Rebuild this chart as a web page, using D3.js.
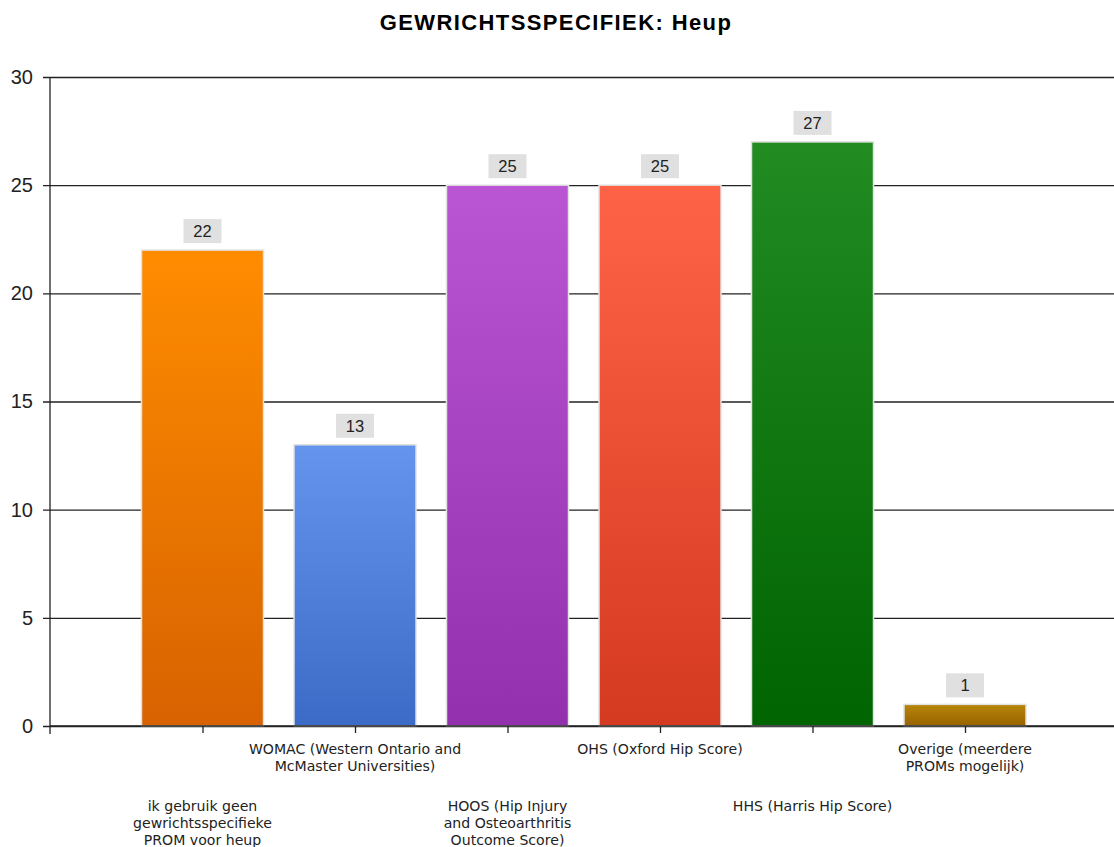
<!DOCTYPE html>
<html><head><meta charset="utf-8">
<script src="https://cdn.jsdelivr.net/npm/d3@7"></script>
<style>body{margin:0;background:#fff;} svg{display:block;font-family:"Liberation Sans",Arial,sans-serif;}</style>
</head><body><svg id="c" width="1114" height="847"></svg>
<script>
const title = "GEWRICHTSSPECIFIEK: Heup";
const categories = [
  "ik gebruik geen\ngewrichtsspecifieke\nPROM voor heup",
  "WOMAC (Western Ontario and\nMcMaster Universities)",
  "HOOS (Hip Injury\nand Osteoarthritis\nOutcome Score)",
  "OHS (Oxford Hip Score)",
  "HHS (Harris Hip Score)",
  "Overige (meerdere\nPROMs mogelijk)"
];
const values = [22, 13, 25, 25, 27, 1];
const colorsTop = ["#FF8C00", "#6495ED", "#BA55D3", "#FF6347", "#228B22", "#B8860B"];
const colorsBottom = ["#D86200", "#3C6BC7", "#9230AD", "#D43A20", "#006400", "#986200"];
const yTicks = [0, 5, 10, 15, 20, 25, 30];

(function () {
const svg = d3.select("#c");
const mLeft = 50, mRight = 1117.5, mTop = 77, mBottom = 726;
const x = d3.scaleLinear().domain([0, categories.length + 1]).range([mLeft, mRight]);
const y = d3.scaleLinear().domain([0, 30]).range([mBottom, mTop]);
const step = x(1) - x(0);
const bw = step * 0.8;

const defs = svg.append("defs");
values.forEach((v, i) => {
  const g = defs.append("linearGradient").attr("id", "g" + i).attr("x1", 0).attr("y1", 0).attr("x2", 0).attr("y2", 1);
  g.append("stop").attr("offset", "0%").attr("stop-color", colorsTop[i]);
  g.append("stop").attr("offset", "100%").attr("stop-color", colorsBottom[i]);
});

svg.append("text").attr("x", 556).attr("y", 30).attr("text-anchor", "middle")
  .attr("font-size", 22).attr("font-weight", "bold").attr("letter-spacing", 1.4).attr("fill", "#000").text(title);

const yAxis = d3.axisLeft(y).tickValues(yTicks).tickSize(-(1114 - mLeft)).tickPadding(17).tickSizeOuter(0);
const gy = svg.append("g").attr("transform", `translate(${mLeft},0)`).call(yAxis);
gy.select(".domain").remove();
gy.selectAll(".tick line").attr("stroke", "#222").attr("stroke-width", 1.3).attr("x1", -7);
gy.selectAll(".tick text").attr("font-size", 20).attr("fill", "#222").attr("font-family", "Liberation Sans, Arial, sans-serif");
svg.append("line").attr("x1", mLeft).attr("x2", mLeft).attr("y1", mTop).attr("y2", mBottom + 8)
  .attr("stroke", "#222").attr("stroke-width", 1.3);

const bars = svg.append("g");
values.forEach((v, i) => {
  const cx = x(i + 1);
  bars.append("rect").attr("x", cx - bw / 2).attr("y", y(v)).attr("width", bw).attr("height", y(0) - y(v))
    .attr("fill", `url(#g${i})`).attr("stroke", "#e2e2e2").attr("stroke-width", 1.5);
  const lbl = bars.append("g");
  lbl.append("rect").attr("x", cx - 19).attr("y", y(v) - 31).attr("width", 38).attr("height", 24).attr("fill", "#e0e0e0");
  lbl.append("text").attr("x", cx).attr("y", y(v) - 19).attr("text-anchor", "middle").attr("dominant-baseline", "central")
    .attr("font-size", 16.5).attr("fill", "#222").text(v);
});

const xAxis = d3.axisBottom(x).tickValues(categories.map((c, i) => i + 1)).tickSize(7).tickFormat("").tickSizeOuter(0);
const gx = svg.append("g").attr("transform", `translate(0,${mBottom})`).call(xAxis);
gx.select(".domain").attr("d", `M${mLeft},0H1114`).attr("stroke", "#222").attr("stroke-width", 1.3);
gx.selectAll(".tick line").attr("stroke", "#222").attr("stroke-width", 1.3);

categories.forEach((c, i) => {
  const lines = c.split("\n");
  const y0 = (i % 2 === 1) ? 749 : 806;
  const t = svg.append("text").attr("text-anchor", "middle").attr("font-size", 14.1).attr("fill", "#222")
    .attr("font-family", "DejaVu Sans, Verdana, sans-serif");
  lines.forEach((ln, k) => {
    t.append("tspan").attr("x", x(i + 1)).attr("y", y0 + k * 16.8).attr("dominant-baseline", "central").text(ln);
  });
});
})();
</script></body></html>
